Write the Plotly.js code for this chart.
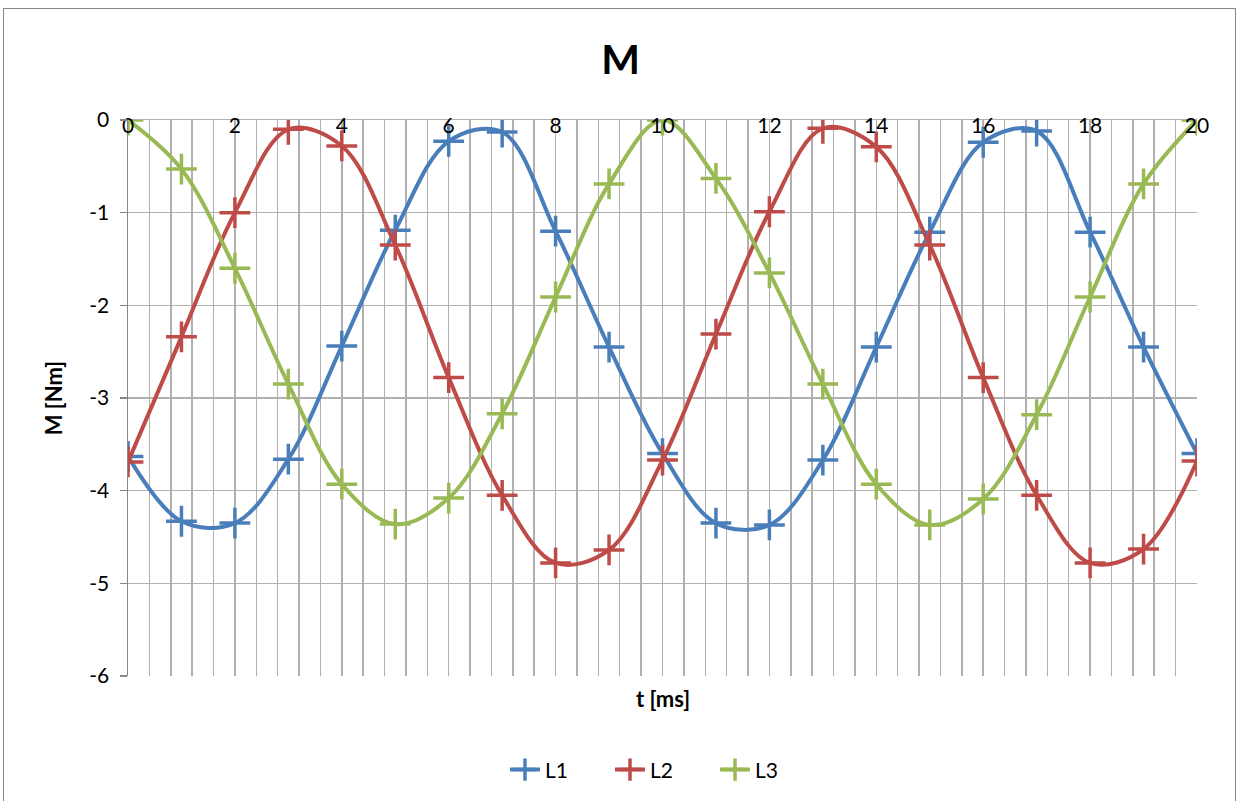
<!DOCTYPE html>
<html><head><meta charset="utf-8">
<script src="https://cdn.plot.ly/plotly-3.0.1.min.js"></script>
<style>
html,body{margin:0;padding:0;background:#fff;}
#wrap{position:relative;width:1241px;height:801px;}
#chart{position:absolute;left:0;top:0;width:1241px;height:801px;}
#frame{position:absolute;left:3px;top:8px;width:1233px;height:800px;border:1px solid #868686;box-sizing:border-box;pointer-events:none;}
</style></head>
<body><div id="wrap"><div id="chart"></div><div id="frame"></div></div>
<script>
const t = [0,1,2,3,4,5,6,7,8,9,10,11,12,13,14,15,16,17,18,19,20];
const L1 = [-3.63,-4.33,-4.35,-3.66,-2.44,-1.19,-0.23,-0.13,-1.20,-2.45,-3.60,-4.35,-4.37,-3.67,-2.45,-1.21,-0.24,-0.12,-1.21,-2.45,-3.60];
const L2 = [-3.69,-2.34,-1.00,-0.10,-0.28,-1.35,-2.78,-4.05,-4.78,-4.64,-3.67,-2.31,-0.99,-0.09,-0.29,-1.35,-2.78,-4.05,-4.78,-4.63,-3.68];
const L3 = [0,-0.53,-1.60,-2.85,-3.93,-4.36,-4.08,-3.17,-1.91,-0.69,0,-0.63,-1.65,-2.85,-3.93,-4.37,-4.09,-3.18,-1.91,-0.69,0];
const names = ['L1','L2','L3'];
const colors = ['#4A7EBB','#BE4B48','#98B954'];
const series = [L1,L2,L3];
const xTickVals = [0,2,4,6,8,10,12,14,16,18,20];
const xTickText = ['0','2','4','6','8','10','12','14','16','18','20'];
const yTickVals = [0,-1,-2,-3,-4,-5,-6];
const yTickText = ['0','-1','-2','-3','-4','-5','-6'];
const FONT = 'Lato, "Open Sans", sans-serif';

const traces = series.map((s,i)=>({
  x:t, y:s, name:names[i], type:'scatter', mode:'lines+markers',
  line:{color:colors[i], width:4, shape:'spline', smoothing:1},
  marker:{symbol:'cross-thin-open', size:22, line:{color:colors[i], width:3.5}, color:colors[i]}
}));

const layout = {
  width:1241, height:801,
  margin:{l:128, r:44, t:120, b:125, autoexpand:false},
  paper_bgcolor:'rgba(0,0,0,0)', plot_bgcolor:'#fff',
  font:{family:FONT, color:'#000', size:21},
  title:{text:'<b>M</b>', x:0.5, xanchor:'center', y:0.925, yanchor:'middle', font:{family:FONT, size:41, color:'#000'}},
  showlegend:true,
  legend:{orientation:'h', x:0.5, xanchor:'center', y:-0.169, yanchor:'middle', font:{size:21, family:FONT}, entrywidth:60, entrywidthmode:'pixels', tracegroupgap:0},
  xaxis:{range:[0,20], side:'top', ticklabelposition:'inside', ticklabeloverflow:'allow', tickmode:'array', tickvals:xTickVals, ticktext:xTickText,
    showgrid:true, gridcolor:'#b0b0b0', gridwidth:1.5,
    minor:{dtick:0.4, tick0:0, showgrid:true, gridcolor:'#b0b0b0', gridwidth:1.5},
    showline:true, linecolor:'#b0b0b0', linewidth:1.5, ticks:'', zeroline:false,
    tickfont:{size:21, family:FONT, color:'#000'}, fixedrange:true},
  yaxis:{range:[-6,0], tickmode:'array', tickvals:yTickVals, ticktext:yTickText, showgrid:true, gridcolor:'#b0b0b0', gridwidth:1.5,
    showline:true, linecolor:'#868686', linewidth:1.5, ticks:'outside', ticklen:7, tickcolor:'#868686', tickwidth:1.5,
    zeroline:false, tickfont:{size:21, family:FONT, color:'#000'}, ticklabelstandoff:6,
    title:{text:'<b>M [Nm]</b>', font:{size:22, family:FONT, color:'#000'}, standoff:20}, fixedrange:true},
  annotations:[{text:'<b>t [ms]</b>', xref:'paper', yref:'paper', x:0.5, y:-0.04, xanchor:'center', yanchor:'middle', showarrow:false, font:{size:22, family:FONT, color:'#000'}}]
};
Plotly.newPlot('chart', traces, layout, {displayModeBar:false, staticPlot:true});
</script></body></html>
